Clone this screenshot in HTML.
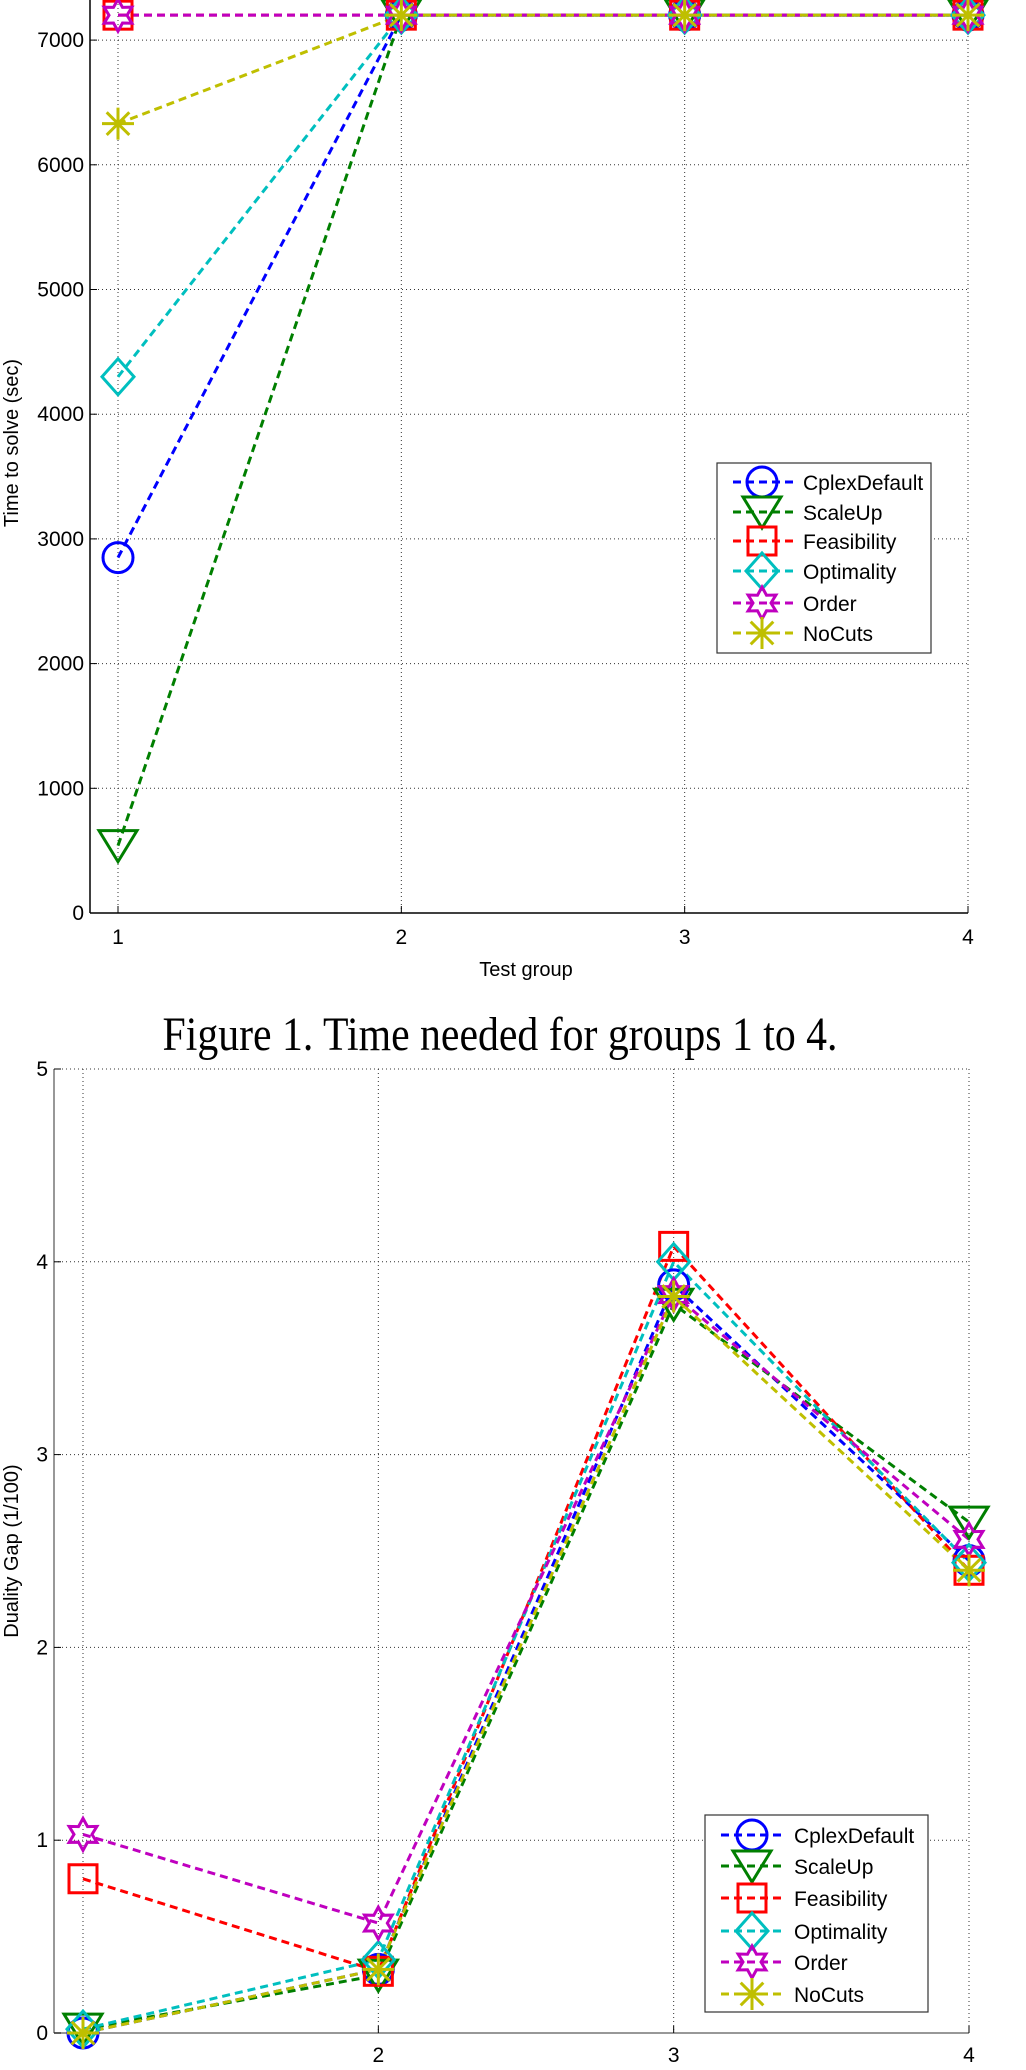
<!DOCTYPE html>
<html><head><meta charset="utf-8"><style>
html,body{margin:0;padding:0;background:#fff;}
svg{display:block;}
text{font-family:"Liberation Sans",sans-serif;}
</style></head><body>
<svg id="s" width="1026" height="2070" xmlns="http://www.w3.org/2000/svg">
<rect width="1026" height="2070" fill="#fff"/>
<g id="g"></g>
<text x="500" y="1050" text-anchor="middle" style="font-family:'Liberation Serif',serif" font-size="48" textLength="675" lengthAdjust="spacingAndGlyphs">Figure 1. Time needed for groups 1 to 4.</text>
</svg>
<script>
const NS="http://www.w3.org/2000/svg";
const G=document.getElementById('g');
function el(t,a,txt){const e=document.createElementNS(NS,t);for(const k in a)e.setAttribute(k,a[k]);if(txt!==undefined)e.textContent=txt;G.appendChild(e);return e;}
const C=['#0000ff','#007f00','#ff0000','#00bfbf','#bf00bf','#bfbf00'];
const N=['CplexDefault','ScaleUp','Feasibility','Optimality','Order','NoCuts'];
const M=['o','v','s','d','h','*'];
function marker(m,x,y,c){
  const st={fill:'none',stroke:c,'stroke-width':3};
  if(m=='o')el('circle',Object.assign({cx:x,cy:y,r:15},st));
  else if(m=='v')el('polygon',Object.assign({points:`${x-19},${y-15} ${x+19},${y-15} ${x},${y+16}`},st));
  else if(m=='s')el('rect',Object.assign({x:x-14,y:y-14,width:28,height:28},st));
  else if(m=='d')el('polygon',Object.assign({points:`${x},${y-18} ${x+16},${y} ${x},${y+18} ${x-16},${y}`},st));
  else if(m=='h'){let p=[];for(let i=0;i<12;i++){const r=i%2?9:16;const a=-Math.PI/2+i*Math.PI/6;p.push((x+r*Math.cos(a)).toFixed(1)+','+(y+r*Math.sin(a)).toFixed(1));}el('polygon',Object.assign({points:p.join(' ')},st));}
  else{for(let i=0;i<4;i++){const a=i*Math.PI/4;el('line',Object.assign({x1:x-16*Math.cos(a),y1:y-16*Math.sin(a),x2:x+16*Math.cos(a),y2:y+16*Math.sin(a)},st));}}
}
function chart(o){
  const X=v=>o.x0+(v-1)*(o.x4-o.x0)/3, Y=v=>o.y0-(v)*o.py;
  // grid
  for(let i=1;i<=4;i++){if(i==1&&!o.g1)continue;el('line',{x1:X(i),y1:o.top,x2:X(i),y2:o.y0,stroke:'#333','stroke-width':1,'stroke-dasharray':'1,3'});}
  o.yt.forEach(v=>{if(v==0)return;el('line',{x1:o.ax,y1:Y(v),x2:o.x4,y2:Y(v),stroke:'#333','stroke-width':1,'stroke-dasharray':'1,3'});
  });
  el('line',{x1:o.ax,y1:o.top,x2:o.ax,y2:o.y0,stroke:o.axc,'stroke-width':1.5});
  el('line',{x1:o.ax,y1:o.y0,x2:o.x4,y2:o.y0,stroke:o.axc,'stroke-width':1.5});
  o.yt.forEach(v=>{el('line',{x1:o.ax,y1:Y(v),x2:o.ax+7,y2:Y(v),stroke:'#000'});el('text',{x:o.ax-6,y:Y(v)+7,'text-anchor':'end','font-size':21},o.yl(v));});
  for(let i=1;i<=4;i++){el('line',{x1:X(i),y1:o.y0,x2:X(i),y2:o.y0-7,stroke:'#000'});if(o.xl[i-1])el('text',{x:X(i),y:o.xly,'text-anchor':'middle','font-size':21},o.xl[i-1]);}
  el('text',{x:0,y:0,'text-anchor':'middle','font-size':20,transform:`translate(${o.ylx},${o.ylyc}) rotate(-90)`},o.ylab);
  if(o.xlab)el('text',{x:526,y:976,'text-anchor':'middle','font-size':20},o.xlab);
  o.data.forEach((d,k)=>{el('polyline',{points:d.map((v,i)=>X(i+1)+','+Y(v)).join(' '),fill:'none',stroke:C[k],'stroke-width':3,'stroke-dasharray':'8,5'});});
  o.data.forEach((d,k)=>{d.forEach((v,i)=>marker(M[k],X(i+1),Y(v),C[k]));});
  const L=o.leg;
  el('rect',{x:L.x1,y:L.y1,width:L.x2-L.x1,height:L.y2-L.y1,fill:'#fff',stroke:'#333','stroke-width':1.2});
  L.ys.forEach((yy,k)=>{el('line',{x1:L.lx1,y1:yy,x2:L.lx2,y2:yy,stroke:C[k],'stroke-width':3,'stroke-dasharray':'8,5'});marker(M[k],L.mx,yy,C[k]);el('text',{x:L.tx,y:yy+8,'font-size':21},N[k]);});
}
chart({x0:118,x4:968,ax:90,y0:913,py:0.1247,top:0,axc:'#000',g1:true,
 yt:[0,1000,2000,3000,4000,5000,6000,7000],yl:v=>String(v),xl:['1','2','3','4'],xly:944,
 ylx:18,ylyc:443,ylab:'Time to solve (sec)',xlab:'Test group',
 data:[[2850,7200,7200,7200],[540,7200,7200,7200],[7200,7200,7200,7200],[4300,7200,7200,7200],[7200,7200,7200,7200],[6330,7200,7200,7200]],
 leg:{x1:717,y1:463,x2:931,y2:653,ys:[482,512,541,571,603,633],lx1:733,lx2:795,mx:762,tx:803}});
chart({x0:83,x4:969,ax:54,y0:2033,py:192.8,top:1069,axc:'#777',g1:true,
 yt:[0,1,2,3,4,5],yl:v=>String(v),xl:['','2','3','4'],xly:2062,
 ylx:18,ylyc:1551,ylab:'Duality Gap (1/100)',xlab:null,
 data:[[0,0.33,3.88,2.45],[0.02,0.3,3.78,2.65],[0.8,0.32,4.08,2.4],[0.02,0.38,4.0,2.44],[1.03,0.57,3.83,2.56],[0,0.33,3.82,2.4]],
 leg:{x1:705,y1:1815,x2:928,y2:2012,ys:[1835,1866,1898,1931,1962,1994],lx1:721,lx2:784,mx:752,tx:794}});
</script>
</body></html>
